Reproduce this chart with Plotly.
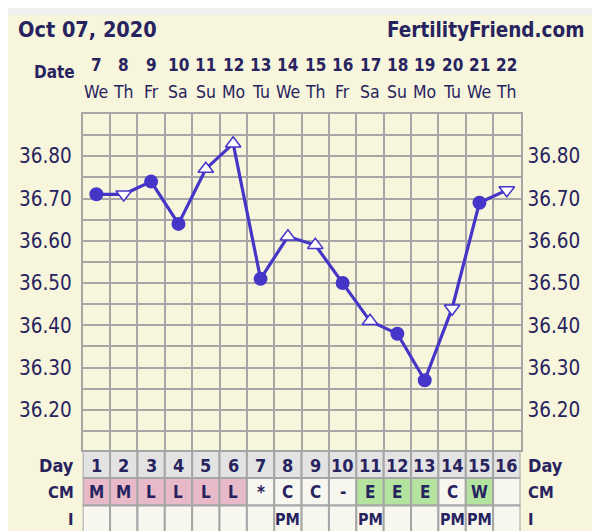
import plotly.graph_objects as go

# chart data
cycle_days = list(range(1, 17))
dates = [7, 8, 9, 10, 11, 12, 13, 14, 15, 16, 17, 18, 19, 20, 21, 22]
weekdays = ['We', 'Th', 'Fr', 'Sa', 'Su', 'Mo', 'Tu', 'We', 'Th', 'Fr', 'Sa', 'Su', 'Mo', 'Tu', 'We', 'Th']
temps = [36.71, 36.71, 36.74, 36.64, 36.77, 36.83, 36.51, 36.61, 36.59, 36.50,
         36.41, 36.38, 36.27, 36.44, 36.69, 36.72]
temp_marks = ['circle', 'down', 'circle', 'circle', 'up', 'up', 'circle', 'up', 'up', 'circle',
              'up', 'circle', 'circle', 'down', 'circle', 'down']
cm = ['M', 'M', 'L', 'L', 'L', 'L', '*', 'C', 'C', '-', 'E', 'E', 'E', 'C', 'W', '']
intercourse = ['', '', '', '', '', '', '', 'PM', '', '', 'PM', '', '', 'PM', 'PM', '']
y_grid = [36.15, 36.20, 36.25, 36.30, 36.35, 36.40, 36.45, 36.50, 36.55, 36.60,
          36.65, 36.70, 36.75, 36.80, 36.85, 36.90]
y_labels = ['36.20', '36.30', '36.40', '36.50', '36.60', '36.70', '36.80']

# the page puts the figure 8px in from the top-left corner of the window
OX, OY = 8, 8
W, H = 600 - OX, 531 - OY
FONT = 'DejaVu Sans Condensed, DejaVu Sans, sans-serif'
INK = '#27235f'
BLUE = '#4636c8'
GRID = '#a6a6a6'


def fx(px):
    return (px - OX) / W


def fy(py):
    return 1 - (py - OY) / H


sym_map = {'circle': 'circle', 'up': 'triangle-up', 'down': 'triangle-down'}
symbols = [sym_map[m] for m in temp_marks]
fills = [BLUE if m == 'circle' else 'white' for m in temp_marks]
sizes = [12.5 if m == 'circle' else 13.5 for m in temp_marks]
ticktext = [f'{v:.2f}' if f'{v:.2f}' in y_labels else '' for v in y_grid]

fig = go.Figure()
fig.add_trace(go.Scatter(
    x=cycle_days, y=temps, mode='lines+markers',
    line=dict(color=BLUE, width=3.2),
    marker=dict(symbol=symbols, color=fills, size=sizes, opacity=1,
                line=dict(color=BLUE, width=1.5)),
    showlegend=False, hoverinfo='skip', cliponaxis=False,
))
# invisible copy so the right axis gets drawn
fig.add_trace(go.Scatter(
    x=cycle_days, y=temps, yaxis='y2', mode='markers',
    marker=dict(opacity=0), showlegend=False, hoverinfo='skip',
))

shapes = [dict(type='rect', xref='paper', yref='paper', x0=fx(7), x1=fx(597), y0=fy(560), y1=fy(15),
               fillcolor='#f7f5dc', line=dict(width=0), layer='below')]

cm_fill = {'M': '#e8b9c8', 'L': '#e8b9c8', 'E': '#b3e39f', 'W': '#b3e39f'}
rows = [(451, 478), (478, 505.5), (505.5, 560)]
for i, d in enumerate(cycle_days):
    cols = ['#e3e3e3', cm_fill.get(cm[i], '#f7f7f0'), '#f7f7f0']
    for (top, bot), c in zip(rows, cols):
        shapes.append(dict(type='rect', xref='x', yref='paper', x0=d - 0.5, x1=d + 0.5,
                           y0=fy(bot), y1=fy(top), fillcolor=c, line=dict(color=GRID, width=2)))

ann = []


def txt(text, x, y, size, xref='paper', xanchor='center', bold=False):
    ann.append(dict(text=text, x=x, y=y, xref=xref, yref='paper', xanchor=xanchor, yanchor='middle',
                    showarrow=False, font=dict(family=FONT, size=size, color=INK,
                                               weight='bold' if bold else 'normal')))


txt('Oct 07, 2020', fx(16), fy(30), 21.5, xanchor='left', bold=True)
txt('FertilityFriend.com', fx(586), fy(30), 20.5, xanchor='right', bold=True)
txt('Date', fx(77), fy(72), 17, xanchor='right', bold=True)
for i, d in enumerate(cycle_days):
    txt(str(dates[i]), d, fy(65), 17, xref='x', bold=True)
    txt(weekdays[i], d, fy(92), 17.5, xref='x')
    txt(str(d), d, fy(465), 18, xref='x', bold=True)
    txt(cm[i], d, fy(492), 17, xref='x', bold=True)
    txt(intercourse[i], d, fy(519), 16, xref='x', bold=True)

for label, y in [('Day', 465), ('CM', 492), ('I', 519)]:
    size = 18 if label == 'Day' else 16.5
    txt(label, fx(76), fy(y), size, xanchor='right', bold=True)
    txt(label, fx(526), fy(y), size, xanchor='left', bold=True)

yax = dict(range=[36.105, 36.90], tickvals=y_grid, ticktext=ticktext, ticks='',
           tickfont=dict(family=FONT, size=20.5, color=INK), zeroline=False,
           domain=[fy(450), fy(114)])

fig.update_layout(
    width=W, height=H,
    margin=dict(l=0, r=0, t=0, b=0),
    paper_bgcolor='#efefef',
    plot_bgcolor='#f7f5dc',
    shapes=shapes,
    annotations=ann,
    xaxis=dict(range=[0.5, 16.5], domain=[fx(82.7), fx(520.5)],
               tickvals=[k + 0.5 for k in range(17)], showticklabels=False, ticks='',
               showgrid=True, gridcolor=GRID, gridwidth=1.6, zeroline=False,
               showline=True, mirror=True, linecolor=GRID, linewidth=1.6),
    yaxis=dict(**yax, showgrid=True, gridcolor=GRID, gridwidth=1.6, ticklabelstandoff=5,
               showline=True, mirror=True, linecolor=GRID, linewidth=1.6),
    yaxis2=dict(**yax, overlaying='y', side='right', anchor='x', showgrid=False,
                ticklabelstandoff=6),
)

fig.write_html('out.html')
